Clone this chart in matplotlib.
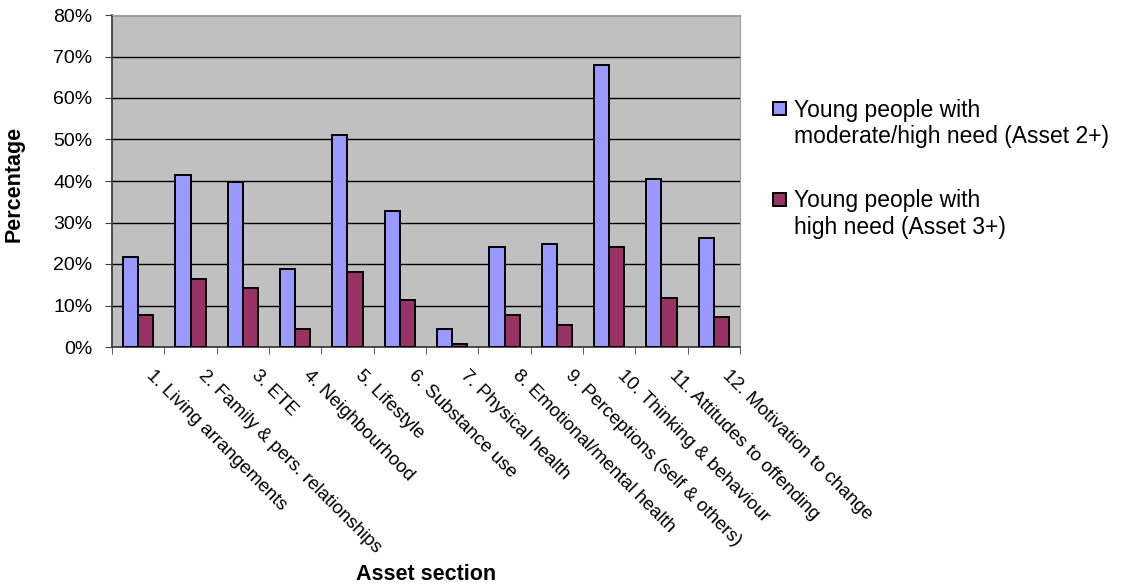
import matplotlib.pyplot as plt
import numpy as np
from matplotlib.container import BarContainer
from matplotlib.legend_handler import HandlerPatch, update_from_first_child
from matplotlib.patches import Rectangle
from matplotlib.ticker import FuncFormatter, MultipleLocator
from matplotlib.transforms import ScaledTranslation

plt.rcParams["font.family"] = ["Liberation Sans", "DejaVu Sans"]

sections = [
    "1. Living arrangements",
    "2. Family & pers. relationships",
    "3. ETE",
    "4. Neighbourhood",
    "5. Lifestyle",
    "6. Substance use",
    "7. Physical health",
    "8. Emotional/mental health",
    "9. Perceptions (self & others)",
    "10. Thinking & behaviour",
    "11. Attitudes to offending",
    "12. Motivation to change",
]
moderate_high = [21.7, 41.4, 39.8, 18.8, 51.2, 32.8, 4.4, 24.1, 24.9, 68.0, 40.5, 26.2]
high = [7.8, 16.3, 14.3, 4.4, 18.0, 11.4, 0.7, 7.8, 5.3, 24.1, 11.8, 7.3]
series_labels = [
    "Young people with\nmoderate/high need (Asset 2+)",
    "Young people with\nhigh need (Asset 3+)",
]


def first_line_square(legend, orig_handle, xdescent, ydescent, width, height, fontsize):
    # small square sitting on the baseline of the label's first line
    side = 0.57 * fontsize
    top = height - ydescent - 0.16 * fontsize
    return Rectangle((-xdescent, top - side), side, side)


fig = plt.figure(figsize=(11.26, 5.85), dpi=100)
ax = fig.add_axes([112 / 1126, 1 - 347 / 585, 628 / 1126, 332 / 585])
ax.set_facecolor("#C0C0C0")

x = np.arange(len(sections))
w = 0.29
ax.bar(x - w / 2, moderate_high, w, color="#9999FF", edgecolor="black",
       linewidth=1.4, label=series_labels[0], zorder=3)
ax.bar(x + w / 2, high, w, color="#993366", edgecolor="black",
       linewidth=1.4, label=series_labels[1], zorder=3)

ax.set_xlim(-0.5, len(sections) - 0.5)
ax.set_ylim(0, 80)
ax.yaxis.set_major_locator(MultipleLocator(10))
ax.yaxis.set_major_formatter(FuncFormatter(lambda v, _: f"{v:.0f}%"))
ax.yaxis.grid(True, color="black", linewidth=1, zorder=0)
ax.tick_params(axis="y", labelsize=14, length=5, pad=9, direction="out",
               color="#404040")

# ticks sit between the categories, labels at the category centres
ax.set_xticks(x)
ax.set_xticks(np.arange(-0.5, len(sections)), minor=True)
ax.tick_params(axis="x", which="major", length=0, pad=0)
ax.tick_params(axis="x", which="minor", length=5, direction="out", color="#404040")
ax.set_xticklabels(sections, rotation=-45, ha="left", va="top",
                   rotation_mode="anchor", fontsize=13.5)
offset = ScaledTranslation(17 / 100, -20 / 100, fig.dpi_scale_trans)
for lbl in ax.get_xticklabels():
    lbl.set_transform(lbl.get_transform() + offset)

for side in ("top", "right"):
    ax.spines[side].set_color("#A0A0A0")
for side in ("left", "bottom"):
    ax.spines[side].set_color("#404040")
    ax.spines[side].set_linewidth(1.3)

ax.set_ylabel("Percentage", fontsize=15.5, fontweight="bold")
ax.yaxis.set_label_coords(-0.1385, 0.492)
fig.text(426 / 1126, 1 - 575 / 585, "Asset section", fontsize=15.5,
         fontweight="bold", ha="center", va="center")

square_handler = HandlerPatch(patch_func=first_line_square,
                              update_func=update_from_first_child)
leg = fig.legend(loc="upper left", bbox_to_anchor=(752 / 1126, 1 - 78 / 585),
                 frameon=False, fontsize=16.5, handlelength=0.57, handleheight=1.0,
                 handletextpad=0.35, labelspacing=1.8,
                 handler_map={BarContainer: square_handler})
for column in leg._legend_handle_box.get_children():
    for item in column.get_children():
        item.align = "top"

fig.savefig("out.png", dpi=100)
